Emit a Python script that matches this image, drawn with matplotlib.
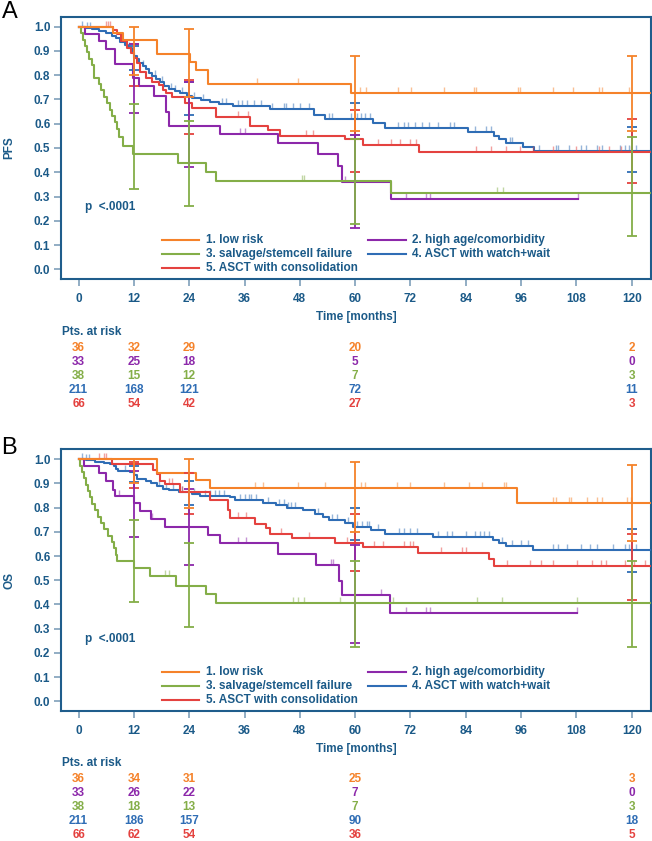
import numpy as np
import matplotlib
matplotlib.use("Agg")
import matplotlib.pyplot as plt
from matplotlib.path import Path
from matplotlib.markers import MarkerStyle
from matplotlib.transforms import blended_transform_factory

plt.rcParams['font.family'] = ['Liberation Sans', 'DejaVu Sans']
plt.rcParams['font.weight'] = 'bold'

# ---------------- data ----------------
group_names = ["1. low risk", "2. high age/comorbidity", "3. salvage/stemcell failure",
               "4. ASCT with watch+wait", "5. ASCT with consolidation"]
group_colors = ["#f5822a", "#8c28aa", "#84ae48", "#2f6db5", "#e4423f"]
x_ticks = [0, 12, 24, 36, 48, 60, 72, 84, 96, 108, 120]
y_ticks = [0.0, 0.1, 0.2, 0.3, 0.4, 0.5, 0.6, 0.7, 0.8, 0.9, 1.0]
risk_times = [0, 12, 24, 60, 120]
ci_times = [12, 24, 60, 120]
END = 125.0

# ---- PFS (panel A) ----
pfs_low_t = [7.5, 9.6, 17.0, 24.2, 25.5, 28.1, 59.2]
pfs_low_s = [0.972, 0.944, 0.889, 0.856, 0.820, 0.764, 0.728]
pfs_low_c = [38.6, 47.6, 61.0, 62.4, 69.3, 72.2, 79.3, 85.7, 86.3, 95.3, 95.7, 102.9,
             107.2, 112.9, 113.6, 119.5]
pfs_low_end = END

pfs_age_t = [1.4, 4.5, 6.0, 7.8, 11.8, 13.2, 16.3, 18.9, 19.6, 30.6, 43.3, 51.9, 56.3, 57.2, 67.8]
pfs_age_s = [0.970, 0.939, 0.909, 0.848, 0.787, 0.756, 0.715, 0.650, 0.591, 0.558, 0.519,
             0.475, 0.426, 0.361, 0.290]
pfs_age_c = [35.0, 36.1, 57.7, 71.0, 75.3, 76.2, 108.3]
pfs_age_end = 108.3

pfs_salv_t = [0.4, 0.9, 1.4, 1.8, 2.3, 2.8, 3.3, 4.4, 4.9, 5.5, 6.1, 6.8, 7.3, 7.8, 8.4,
              8.8, 9.6, 11.8, 21.6, 27.7, 29.9, 67.8]
pfs_salv_s = [0.974, 0.947, 0.921, 0.895, 0.868, 0.842, 0.789, 0.763, 0.737, 0.711, 0.684,
              0.658, 0.632, 0.605, 0.579, 0.547, 0.508, 0.475, 0.437, 0.402, 0.364, 0.313]
pfs_salv_c = [48.4, 49.0, 90.7, 92.0]
pfs_salv_end = END

pfs_ww_t = [1.5, 3.0, 4.5, 6.0, 7.2, 8.0, 9.0, 10.0, 10.8, 11.5, 12.0, 12.6, 13.2, 13.9,
            14.6, 15.3, 16.0, 16.8, 17.6, 18.6, 19.6, 20.8, 22.0, 23.5, 24.5, 26.5, 28.5,
            30.5, 33.5, 41.5, 51.0, 53.4, 63.9, 66.4, 84.5, 90.2, 91.3, 92.7, 96.4, 98.9]
pfs_ww_s = [0.995, 0.990, 0.981, 0.972, 0.962, 0.952, 0.938, 0.924, 0.910, 0.895, 0.880,
            0.866, 0.852, 0.838, 0.824, 0.810, 0.796, 0.783, 0.770, 0.757, 0.745, 0.734,
            0.725, 0.715, 0.705, 0.697, 0.689, 0.682, 0.674, 0.659, 0.636, 0.620, 0.604,
            0.581, 0.565, 0.551, 0.536, 0.522, 0.505, 0.489]
pfs_ww_c = [0.8, 1.8, 2.5, 9.5, 11.0, 14.0, 16.5, 18.0, 20.0, 21.0, 22.5, 25.0, 27.0, 31.0,
            32.0, 34.5, 35.5, 36.5, 38.0, 39.5, 42.0, 44.5, 45.0, 46.5, 48.0, 50.0, 54.3,
            55.0, 59.2, 60.3, 61.3, 62.1, 63.2, 69.3, 70.5, 71.5, 73.0, 74.5, 76.0, 78.0,
            80.5, 81.5, 86.0, 88.5, 89.5, 93.5, 94.0, 100.0, 103.5, 104.0, 106.5, 109.0,
            110.0, 112.5, 113.5, 117.5, 118.5, 119.5, 121.0]
pfs_ww_end = END

pfs_cons_t = [7.4, 8.3, 9.2, 10.4, 11.3, 12.0, 12.6, 13.4, 14.6, 16.0, 17.4, 18.4, 19.0,
              20.3, 23.0, 24.5, 29.9, 37.1, 41.1, 43.6, 57.7, 61.7, 73.8]
pfs_cons_s = [0.985, 0.970, 0.940, 0.910, 0.890, 0.870, 0.850, 0.815, 0.790, 0.770, 0.760,
              0.740, 0.725, 0.710, 0.684, 0.664, 0.627, 0.591, 0.575, 0.550, 0.535, 0.512, 0.485]
pfs_cons_c = [5.9, 6.4, 6.8, 34.6, 36.7, 49.4, 50.9, 65.0, 67.8, 69.7, 71.8, 73.3, 86.3,
              89.5, 92.8, 95.7, 98.6, 103.0, 108.0, 113.0, 115.0, 117.6, 119.8]
pfs_cons_end = END

# PFS confidence limits at 12/24/60/120 months (nan = none)
pfs_ci_lo = [[0.80, 0.71, 0.57, 0.57], [0.645, 0.42, 0.17, np.nan], [0.33, 0.26, 0.185, 0.137],
             [0.82, 0.634, 0.555, 0.40], [0.755, 0.558, 0.40, 0.355]]
pfs_ci_hi = [[1.0, 0.99, 0.88, 0.88], [0.93, 0.77, 0.555, np.nan], [0.68, 0.613, 0.536, 0.545],
             [0.92, 0.77, 0.684, 0.585], [0.93, 0.78, 0.657, 0.618]]

pfs_risk = [[36, 32, 29, 20, 2], [33, 25, 18, 5, 0], [38, 15, 12, 7, 3],
            [211, 168, 121, 72, 11], [66, 54, 42, 27, 3]]

# ---- OS (panel B) ----
os_low_t = [16.9, 25.4, 28.5, 95.1]
os_low_s = [0.944, 0.913, 0.881, 0.820]
os_low_c = [38.2, 40.0, 47.6, 53.4, 61.3, 62.1, 69.1, 72.0, 79.3, 84.6, 87.6, 92.4, 92.8,
            102.9, 103.6, 106.5, 106.9, 110.3, 112.5, 113.6, 119.1, 119.9]
os_low_end = END

os_age_t = [1.2, 4.5, 5.9, 7.5, 7.9, 11.9, 13.3, 15.8, 18.7, 28.1, 30.6, 43.3, 51.6, 56.5,
            57.2, 67.6]
os_age_s = [0.970, 0.942, 0.909, 0.874, 0.849, 0.819, 0.786, 0.754, 0.720, 0.686, 0.652,
            0.610, 0.564, 0.498, 0.439, 0.366]
os_age_c = [8.8, 15.9, 34.6, 36.3, 54.8, 55.2, 65.5, 71.0, 75.3, 76.2, 108.1]
os_age_end = 108.1

os_salv_t = [0.3, 0.7, 1.1, 1.6, 2.0, 2.4, 2.9, 3.6, 4.3, 4.8, 5.6, 6.4, 7.2, 7.6, 8.0, 8.3,
             11.9, 15.5, 21.2, 27.7, 29.9]
os_salv_s = [0.974, 0.947, 0.921, 0.895, 0.868, 0.842, 0.816, 0.790, 0.763, 0.737, 0.711,
             0.684, 0.658, 0.632, 0.606, 0.580, 0.551, 0.517, 0.477, 0.442, 0.405]
os_salv_c = [18.7, 19.6, 46.6, 47.6, 48.8, 56.7, 68.2, 86.4, 91.9, 108.1]
os_salv_end = END

os_ww_t = [1.5, 3.5, 5.5, 6.8, 7.6, 8.0, 8.5, 11.2, 11.9, 12.7, 14.6, 15.6, 17.0, 18.2, 19.6,
           21.7, 24.5, 26.4, 32.8, 34.0, 40.0, 42.8, 45.2, 48.7, 51.2, 53.0, 54.4, 57.7, 59.5,
           63.5, 66.4, 76.9, 89.9, 91.3, 92.8, 98.6]
os_ww_s = [0.995, 0.990, 0.985, 0.980, 0.970, 0.960, 0.953, 0.946, 0.933, 0.919, 0.912,
           0.900, 0.890, 0.878, 0.871, 0.864, 0.857, 0.850, 0.844, 0.830, 0.819, 0.810,
           0.800, 0.789, 0.775, 0.761, 0.748, 0.737, 0.720, 0.709, 0.690, 0.679, 0.665,
           0.652, 0.640, 0.627]
os_ww_c = [0.8, 1.5, 2.2, 10.0, 12.0, 17.5, 19.0, 20.5, 22.5, 25.0, 27.5, 28.5, 29.5, 30.5,
           31.5, 35.0, 36.0, 37.0, 37.5, 38.5, 41.0, 43.5, 44.5, 45.5, 46.0, 47.0, 52.0,
           55.0, 56.0, 58.5, 60.5, 61.5, 62.5, 63.0, 65.0, 69.5, 70.5, 72.0, 73.5, 78.0,
           80.0, 81.0, 84.0, 86.0, 87.0, 88.0, 89.0, 91.8, 94.0, 96.0, 97.5, 103.0, 104.0,
           106.0, 109.0, 111.0, 112.5, 116.0, 118.5, 119.5, 121.0]
os_ww_end = END

os_cons_t = [7.2, 16.2, 16.9, 17.6, 18.7, 21.9, 28.4, 32.4, 32.8, 38.2, 40.7, 41.5, 46.2,
             55.6, 61.6, 73.6, 89.0, 90.2]
os_cons_s = [0.980, 0.956, 0.937, 0.912, 0.898, 0.864, 0.830, 0.789, 0.759, 0.734, 0.717,
             0.693, 0.675, 0.654, 0.638, 0.613, 0.586, 0.558]
os_cons_c = [4.5, 5.5, 6.0, 19.5, 20.3, 22.5, 34.5, 36.3, 44.0, 50.0, 58.2, 64.1, 66.0,
             70.6, 71.8, 72.5, 78.6, 83.1, 84.0, 93.0, 98.0, 100.3, 102.9, 108.1, 111.5,
             113.4, 114.5, 118.6, 120.5, 123.0]
os_cons_end = END

os_ci_lo = [[0.90, 0.80, 0.70, 0.663], [0.68, 0.564, 0.24, np.nan], [0.41, 0.305, 0.226, 0.226],
            [0.905, 0.81, 0.665, 0.535], [0.88, 0.772, 0.539, 0.418]]
os_ci_hi = [[1.0, 1.0, 0.99, 0.977], [0.953, 0.878, 0.645, np.nan], [0.75, 0.655, 0.579, 0.579],
            [0.97, 0.91, 0.80, 0.71], [0.99, 0.945, 0.772, 0.693]]

os_risk = [[36, 34, 31, 25, 3], [33, 26, 22, 7, 0], [38, 18, 13, 7, 3],
           [211, 186, 157, 90, 18], [66, 62, 54, 36, 5]]

pfs_curves = [(pfs_low_t, pfs_low_s, pfs_low_c, pfs_low_end),
              (pfs_age_t, pfs_age_s, pfs_age_c, pfs_age_end),
              (pfs_salv_t, pfs_salv_s, pfs_salv_c, pfs_salv_end),
              (pfs_ww_t, pfs_ww_s, pfs_ww_c, pfs_ww_end),
              (pfs_cons_t, pfs_cons_s, pfs_cons_c, pfs_cons_end)]
os_curves = [(os_low_t, os_low_s, os_low_c, os_low_end),
             (os_age_t, os_age_s, os_age_c, os_age_end),
             (os_salv_t, os_salv_s, os_salv_c, os_salv_end),
             (os_ww_t, os_ww_s, os_ww_c, os_ww_end),
             (os_cons_t, os_cons_s, os_cons_c, os_cons_end)]

# ---------------- style ----------------
W, H = 652, 841
TXT = "#1b5a88"
SPINE = "#1f5d8c"
TICK = "#7f9fba"
FS = 8.5

fig = plt.figure(figsize=(W / 100, H / 100), dpi=100)

censor_marker = MarkerStyle(Path([(0, 0), (0, 1)]))


def px_ax(left, top, right, bottom):
    return fig.add_axes([left / W, 1 - bottom / H, (right - left) / W, (bottom - top) / H])


def panel(ax, curves, ci_lo, ci_hi, risk, ylabel, letter, letter_y, risk_y0, pitch):
    draw_order = [3, 4, 1, 2, 0]
    for g in draw_order:
        t, s, c, end = curves[g]
        col = group_colors[g]
        tt = [0.0] + list(t) + [end]
        ss = [1.0] + list(s) + [s[-1]]
        ax.step(tt, ss, where='post', color=col, lw=1.5, zorder=3)
        idx = np.searchsorted(np.array(t), np.array(c), side='right')
        cy = np.array([1.0] + list(s))[idx]
        ax.plot(c, cy, ls='none', marker=censor_marker, ms=9, mew=1.0,
                color=col, alpha=0.5, zorder=3)
    for g in draw_order:
        col = group_colors[g]
        for k, tm in enumerate(ci_times):
            lo, hi = ci_lo[g][k], ci_hi[g][k]
            if np.isnan(lo):
                continue
            ax.vlines(tm, lo, hi, color=col, lw=1.3, zorder=4)
            ax.plot([tm, tm], [lo, hi], ls='none', marker='_', ms=7, mew=1.3,
                    color=col, zorder=4)

    ax.set_xlim(-3.9, 124.2)
    ax.set_ylim(-0.04, 1.041)
    ax.set_xticks(x_ticks)
    ax.set_xticklabels([str(v) for v in x_ticks])
    ax.set_yticks(y_ticks)
    ax.set_yticklabels([f"{v:.1f}" for v in y_ticks])
    for sp in ax.spines.values():
        sp.set_color(SPINE)
        sp.set_linewidth(1.5)
    ax.tick_params(axis='both', direction='out', length=5, width=1.2, color=TICK,
                   labelcolor=TXT, labelsize=FS)
    ax.tick_params(axis='x', pad=5)
    ax.tick_params(axis='y', pad=2.5)
    for lab in ax.get_xticklabels() + ax.get_yticklabels():
        lab.set_fontweight('bold')

    ax.set_ylabel(ylabel, fontsize=FS, fontweight='bold', color=TXT)
    ax.yaxis.set_label_coords(-0.0774, 0.5)
    ax.set_xlabel("Time [months]", fontsize=FS, fontweight='bold', color=TXT)
    ax.xaxis.label.set_va('center')
    ax.xaxis.set_label_coords(0.5, -38 / 262.3)

    ax.text(1.4, 0.256, "p  <.0001", fontsize=FS, fontweight='bold', color=TXT,
            ha='left', va='center')

    # legend (manual, two columns)
    rows = [0.1487, 0.0953, 0.0419]
    cols = [(0.1711, 0.2343, 0.2456), (0.5211, 0.5844, 0.5946)]
    slots = [(0, 0), (1, 0), (0, 1), (1, 1), (0, 2)]
    for g, (ci, ri) in enumerate(slots):
        x0, x1, xt = cols[ci]
        y = rows[ri]
        ax.plot([x0, x1], [y, y], transform=ax.transAxes, color=group_colors[g], lw=1.5,
                clip_on=False)
        ax.text(xt, y, group_names[g], transform=ax.transAxes, fontsize=FS,
                fontweight='bold', color=TXT, ha='left', va='center')

    # panel letter
    fig.text(1.5 / W, 1 - letter_y / H, letter, fontsize=17, fontweight='normal',
             color='black', ha='left', va='center')

    # at-risk table
    tr = blended_transform_factory(ax.transData, fig.transFigure)
    fig.text(61.7 / W, 1 - (risk_y0 - 15.5) / H, "Pts. at risk", fontsize=FS,
             fontweight='bold', color=TXT, ha='left', va='center')
    for g in range(5):
        y = 1 - (risk_y0 + pitch * g) / H
        for k, tm in enumerate(risk_times):
            ax.text(tm, y, str(risk[g][k]), transform=tr, fontsize=FS, fontweight='bold',
                    color=group_colors[g], ha='center', va='center', clip_on=False)


axA = px_ax(60.7, 16.7, 651, 279)
panel(axA, pfs_curves, pfs_ci_lo, pfs_ci_hi, pfs_risk, "PFS", "A", 12, 347.7, 14.15)

axB = px_ax(60.7, 449.3, 651, 711)
panel(axB, os_curves, os_ci_lo, os_ci_hi, os_risk, "OS", "B", 448, 779.0, 13.9)

fig.savefig("out.png", dpi=100)
